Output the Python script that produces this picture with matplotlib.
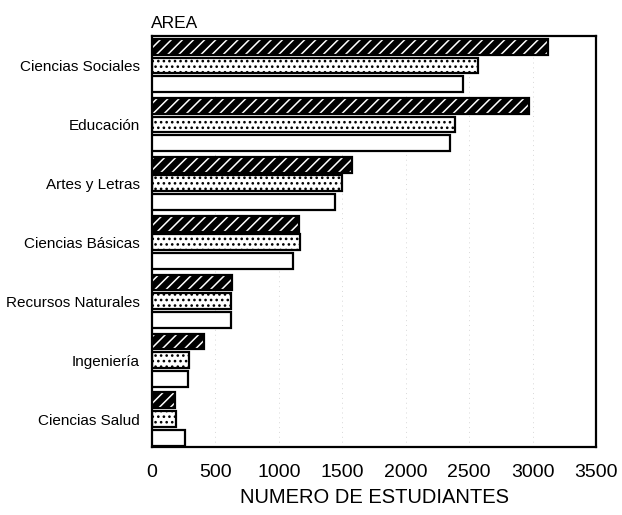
import matplotlib
matplotlib.use("Agg")
import matplotlib.pyplot as plt
import numpy as np

plt.rcParams['font.family'] = ['Liberation Sans', 'DejaVu Sans']
plt.rcParams['hatch.linewidth'] = 1.1

categories = ["Ciencias Sociales", "Educación", "Artes y Letras", "Ciencias Básicas",
              "Recursos Naturales", "Ingeniería", "Ciencias Salud"]
serie_rayada = [3120, 2970, 1580, 1160, 630, 410, 180]
serie_punteada = [2570, 2390, 1500, 1170, 625, 290, 190]
serie_blanca = [2450, 2350, 1440, 1110, 625, 280, 260]
x_ticks = [0, 500, 1000, 1500, 2000, 2500, 3000, 3500]

fig = plt.figure(figsize=(6.22, 5.15), dpi=100)
ax = fig.add_axes([0.2444, 0.132, 0.714, 0.798])

y = np.arange(len(categories))
off = 0.32
h = 0.27
lw = 1.6

ax.set_axisbelow(True)
ax.grid(axis='x', color='#d8d8d8', linestyle=(0, (1, 4)), linewidth=0.7)

# hatched dark series: black fill, white hatch, black outline
ax.barh(y - off, serie_rayada, height=h, color='black', edgecolor='black', linewidth=0, zorder=2)
ax.barh(y - off, serie_rayada, height=h, facecolor='none', edgecolor='white', hatch='///', linewidth=0, zorder=3)
ax.barh(y - off, serie_rayada, height=h, facecolor='none', edgecolor='black', linewidth=lw, zorder=4)

# dotted series
ax.barh(y, serie_punteada, height=h, facecolor='white', edgecolor='black', hatch='...', linewidth=0, zorder=2)
ax.barh(y, serie_punteada, height=h, facecolor='none', edgecolor='black', linewidth=lw, zorder=4)

# white series
ax.barh(y + off, serie_blanca, height=h, facecolor='white', edgecolor='black', linewidth=lw, zorder=4)

ax.set_ylim(6.47, -0.5)
ax.set_xlim(0, 3500)
ax.set_yticks(y)
ax.set_yticklabels(categories, fontsize=11)
ax.set_xticks(x_ticks)
ax.set_xticklabels([str(t) for t in x_ticks], fontsize=14)
ax.tick_params(axis='both', length=0)
ax.tick_params(axis='x', pad=12)
ax.tick_params(axis='y', pad=9)

for s in ax.spines.values():
    s.set_linewidth(1.6)

ax.set_xlabel("NUMERO DE ESTUDIANTES", fontsize=14.5, labelpad=5)
ax.set_title("AREA", loc='left', fontsize=12.5, pad=6, x=-0.003)

fig.savefig("out.png", dpi=100, facecolor='white')
